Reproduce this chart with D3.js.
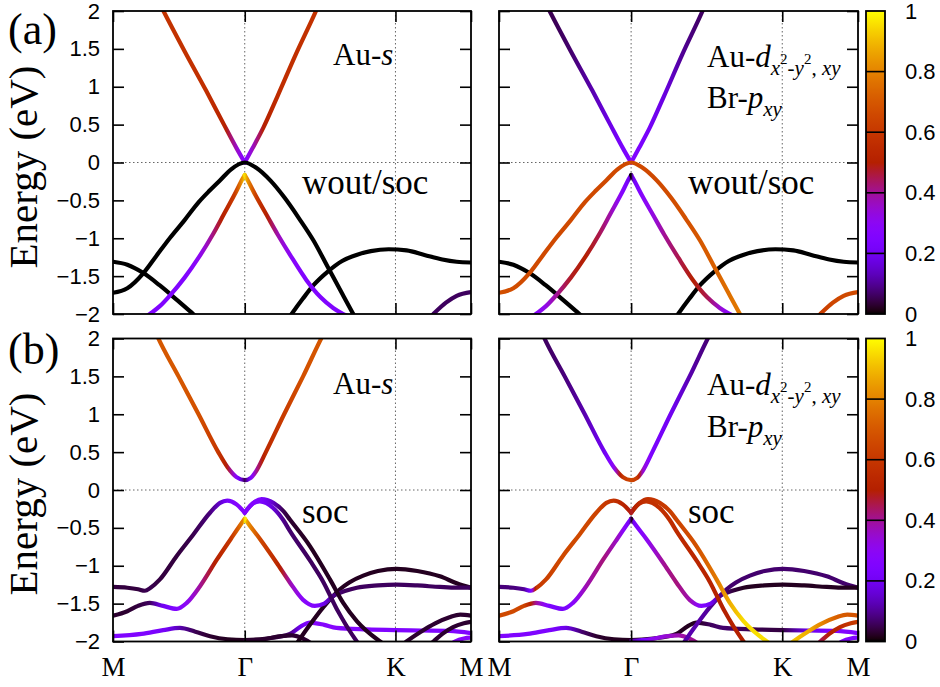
<!DOCTYPE html>
<html><head><meta charset="utf-8">
<script src="https://cdn.jsdelivr.net/npm/d3@7"></script>
<style>body{margin:0;background:#fff}</style>
</head><body><svg id="c" width="940" height="687"></svg>
<script>
// ---------- tick data ----------
const kTicks = [0, 0.368, 0.789, 1];
const kLabels = ["M", "Γ", "K", "M"];
const eTicks = [-2, -1.5, -1, -0.5, 0, 0.5, 1, 1.5, 2];
const cbTicks = [0, 0.2, 0.4, 0.6, 0.8, 1];

// ---------- bands: rows [k, E (eV), weight Au-s, weight Au-d/Br-p] ----------
// (a) without SOC
const ns_condL = [[0.125,2.15,0.58,0.05],[0.141,2.0,0.58,0.05],[0.20,1.47,0.58,0.07],[0.26,0.95,0.57,0.12],[0.31,0.50,0.52,0.18],[0.345,0.19,0.36,0.23],[0.368,0.0,0.26,0.26]];
const ns_condR = [[0.368,0.0,0.26,0.26],[0.39,0.19,0.36,0.24],[0.42,0.46,0.5,0.21],[0.46,0.88,0.56,0.17],[0.51,1.42,0.57,0.1],[0.567,2.0,0.58,0.06],[0.59,2.25,0.58,0.06]];
const ns_valL = [[0.08,-2.08,0.25,0.28],[0.103,-2.0,0.25,0.28],[0.13,-1.90,0.25,0.32],[0.16,-1.75,0.25,0.4],[0.20,-1.52,0.25,0.48],[0.24,-1.25,0.3,0.5],[0.28,-0.94,0.42,0.45],[0.31,-0.68,0.52,0.38],[0.34,-0.42,0.62,0.28],[0.362,-0.215,0.85,0.2],[0.368,-0.165,0.95,0.0]];
const ns_valR = [[0.368,-0.165,0.95,0.0],[0.374,-0.215,0.85,0.2],[0.40,-0.45,0.62,0.28],[0.43,-0.70,0.5,0.33],[0.46,-0.95,0.38,0.4],[0.50,-1.26,0.28,0.45],[0.54,-1.55,0.25,0.5],[0.58,-1.78,0.25,0.45],[0.615,-1.92,0.25,0.35],[0.643,-2.0,0.25,0.28],[0.67,-2.06,0.25,0.28]];
const ns_hump = [[0,-1.72,0,0.68],[0.04,-1.66,0,0.67],[0.085,-1.46,0,0.66],[0.12,-1.24,0,0.66],[0.16,-0.99,0,0.66],[0.20,-0.76,0,0.66],[0.24,-0.52,0,0.66],[0.27,-0.37,0,0.66],[0.30,-0.23,0,0.66],[0.33,-0.09,0,0.66],[0.368,0.0,0,0.66],[0.40,-0.07,0,0.66],[0.44,-0.24,0,0.66],[0.48,-0.47,0,0.67],[0.52,-0.74,0,0.68],[0.56,-1.03,0,0.7],[0.60,-1.38,0,0.72],[0.64,-1.73,0,0.76],[0.671,-2.0,0,0.78],[0.70,-2.25,0,0.78]];
const ns_low = [[0,-1.31,0,0],[0.04,-1.35,0,0],[0.085,-1.46,0,0],[0.13,-1.62,0,0],[0.18,-1.82,0,0],[0.224,-2.0,0,0],[0.25,-2.1,0,0]];
const ns_kHump = [[0.47,-2.2,0,0],[0.499,-2.0,0,0],[0.53,-1.80,0,0],[0.56,-1.62,0,0],[0.60,-1.44,0,0],[0.64,-1.30,0,0],[0.68,-1.22,0,0],[0.72,-1.17,0,0],[0.77,-1.145,0,0],[0.82,-1.16,0,0],[0.87,-1.22,0,0],[0.92,-1.28,0,0],[0.96,-1.31,0,0],[1.0,-1.32,0,0]];
const ns_corner = [[0.87,-2.12,0.06,0.6],[0.895,-2.0,0.06,0.62],[0.93,-1.85,0.06,0.65],[0.96,-1.76,0.06,0.66],[1.0,-1.71,0.06,0.66]];

// (b) with SOC
const s_cond = [[0.10,2.3,0.7,0.06],[0.122,2.05,0.7,0.06],[0.183,1.5,0.7,0.08],[0.239,1.0,0.68,0.12],[0.294,0.5,0.6,0.2],[0.32,0.30,0.48,0.3],[0.345,0.17,0.28,0.6],[0.368,0.13,0.05,0.65],[0.385,0.16,0.25,0.6],[0.40,0.25,0.4,0.35],[0.427,0.5,0.55,0.23],[0.478,1.0,0.62,0.2],[0.531,1.5,0.68,0.12],[0.587,2.05,0.7,0.07],[0.61,2.25,0.7,0.07]];
const s_valL = [[0,-1.28,0.04,0.08],[0.04,-1.29,0.04,0.08],[0.07,-1.31,0.04,0.1],[0.089,-1.33,0.05,0.25],[0.105,-1.29,0.05,0.6],[0.131,-1.18,0.04,0.63],[0.178,-0.87,0.04,0.66],[0.224,-0.59,0.05,0.66],[0.271,-0.30,0.08,0.64],[0.299,-0.17,0.15,0.6],[0.319,-0.14,0.22,0.58],[0.345,-0.19,0.27,0.52],[0.368,-0.30,0.26,0.48]];
const s_valOut = [[0.368,-0.30,0.26,0.48],[0.392,-0.17,0.26,0.55],[0.415,-0.12,0.24,0.58],[0.448,-0.17,0.14,0.6],[0.476,-0.28,0.05,0.62],[0.494,-0.39,0.03,0.64],[0.55,-0.74,0.02,0.68],[0.606,-1.18,0.02,0.78],[0.643,-1.49,0.02,0.88],[0.681,-1.73,0.02,0.95],[0.746,-2.0,0.02,0.96],[0.77,-2.08,0.02,0.96]];
const s_valIn = [[0.368,-0.30,0.26,0.48],[0.39,-0.18,0.26,0.55],[0.41,-0.15,0.24,0.58],[0.448,-0.24,0.16,0.57],[0.476,-0.40,0.09,0.56],[0.494,-0.54,0.07,0.55],[0.55,-0.93,0.06,0.53],[0.587,-1.21,0.06,0.52],[0.625,-1.57,0.06,0.5],[0.681,-2.0,0.06,0.5],[0.70,-2.12,0.06,0.5]];
const s_sL = [[0,-1.66,0.03,0.66],[0.04,-1.60,0.03,0.66],[0.07,-1.53,0.04,0.64],[0.103,-1.49,0.06,0.4],[0.14,-1.53,0.2,0.24],[0.178,-1.57,0.26,0.22],[0.206,-1.49,0.3,0.28],[0.243,-1.27,0.4,0.38],[0.29,-0.92,0.52,0.42],[0.33,-0.64,0.6,0.36],[0.362,-0.42,0.8,0.22],[0.368,-0.38,0.98,0.02]];
const s_sR = [[0.368,-0.38,0.98,0.02],[0.374,-0.42,0.85,0.22],[0.411,-0.65,0.65,0.3],[0.457,-0.96,0.55,0.4],[0.494,-1.22,0.38,0.42],[0.531,-1.45,0.28,0.38],[0.564,-1.53,0.26,0.26],[0.59,-1.50,0.18,0.2],[0.615,-1.40,0.09,0.1],[0.65,-1.33,0.06,0.04],[0.681,-1.29,0.06,0.02],[0.74,-1.26,0.06,0.02],[0.792,-1.25,0.06,0.02],[0.85,-1.26,0.06,0.02],[0.913,-1.28,0.06,0.02],[0.96,-1.29,0.06,0.02],[1.0,-1.29,0.06,0.02]];
const s_kHump = [[0.50,-2.12,0.02,0.12],[0.52,-1.98,0.02,0.12],[0.55,-1.78,0.02,0.12],[0.587,-1.55,0.02,0.1],[0.615,-1.40,0.02,0.08],[0.634,-1.31,0.02,0.07],[0.66,-1.22,0.02,0.07],[0.699,-1.13,0.02,0.07],[0.74,-1.07,0.02,0.07],[0.792,-1.04,0.02,0.07],[0.85,-1.07,0.02,0.07],[0.913,-1.14,0.02,0.07],[0.96,-1.23,0.02,0.07],[1.0,-1.29,0.02,0.07]];
const s_flat = [[0,-1.93,0.25,0.25],[0.08,-1.90,0.25,0.25],[0.14,-1.85,0.22,0.24],[0.187,-1.82,0.12,0.18],[0.23,-1.87,0.05,0.07],[0.271,-1.93,0.03,0.03],[0.32,-1.97,0.02,0.02],[0.368,-1.98,0.02,0.02],[0.43,-1.96,0.03,0.02],[0.494,-1.90,0.08,0.02],[0.525,-1.80,0.2,0.02],[0.55,-1.75,0.27,0.02],[0.59,-1.78,0.27,0.06],[0.624,-1.82,0.27,0.07],[0.708,-1.84,0.26,0.05],[0.789,-1.85,0.25,0.04],[0.86,-1.855,0.25,0.18],[0.94,-1.86,0.25,0.25],[1.0,-1.89,0.25,0.25]];
const s_bot = [[0.368,-1.99,0.03,0.1],[0.42,-1.97,0.03,0.3],[0.47,-1.93,0.03,0.35],[0.50,-1.92,0.03,0.38],[0.53,-1.96,0.03,0.4],[0.57,-2.08,0.03,0.4]];
const s_corner1 = [[0.80,-2.08,0.03,0.92],[0.82,-2.0,0.03,0.92],[0.86,-1.87,0.03,0.88],[0.90,-1.76,0.03,0.8],[0.94,-1.68,0.03,0.72],[0.97,-1.645,0.03,0.7],[1.0,-1.66,0.03,0.68]];
const s_corner2 = [[0.87,-2.1,0.03,0.45],[0.895,-2.0,0.03,0.45],[0.92,-1.90,0.03,0.5],[0.95,-1.81,0.03,0.55],[0.98,-1.76,0.03,0.6],[1.0,-1.74,0.03,0.62]];
const s_corner3 = [[0.93,-2.08,0.28,0.25],[0.955,-2.0,0.28,0.25],[0.98,-1.96,0.28,0.25],[1.0,-1.95,0.28,0.25]];

const bandsNoSoc = [ns_low, ns_kHump, ns_corner, ns_condL, ns_condR, ns_valL, ns_valR, ns_hump];
const bandsSoc = [s_flat, s_bot, s_corner3, s_corner2, s_corner1, s_kHump, s_sR, s_valIn, s_valOut, s_valL, s_sL, s_cond];

// ---------- drawing ----------
const SERIF = "'Liberation Serif','Times New Roman',serif";
const SANS = "'Liberation Sans',Arial,Helvetica,sans-serif";
const svg = d3.select("#c");
const defs = svg.append("defs");
const pal = w => {
  w = Math.max(0, Math.min(1, w));
  const r = Math.sqrt(w), g = w * w * w, b = Math.max(0, Math.sin(2 * Math.PI * w));
  return d3.rgb(r * 255, g * 255, b * 255).formatHex();
};
const cols = [{x0: 113, x1: 471}, {x0: 499, x1: 858}];
const rows = [{y0: 11, y1: 314}, {y0: 338.5, y1: 641.5}];
const cbX = [866, 885];
let uid = 0;
const fmtE = d => (d < 0 ? "\u2212" : "") + Math.abs(d);

function drawPanel(row, col, bands, wIdx, ylabels, xlabels) {
  const xs = d3.scaleLinear().domain([0, 1]).range([col.x0, col.x1]);
  const ys = d3.scaleLinear().domain([-2, 2]).range([row.y1, row.y0]);
  const g = svg.append("g");
  const cid = "clip" + (uid++);
  defs.append("clipPath").attr("id", cid).append("rect")
    .attr("x", col.x0).attr("y", row.y0).attr("width", col.x1 - col.x0).attr("height", row.y1 - row.y0);
  g.selectAll("line.vg").data([kTicks[1], kTicks[2]]).join("line")
    .attr("x1", d => xs(d)).attr("x2", d => xs(d)).attr("y1", row.y0).attr("y2", row.y1)
    .attr("stroke", "#666").attr("stroke-width", 1).attr("stroke-dasharray", "1.5,2.5");
  g.append("line").attr("x1", col.x0).attr("x2", col.x1).attr("y1", ys(0)).attr("y2", ys(0))
    .attr("stroke", "#666").attr("stroke-width", 1).attr("stroke-dasharray", "1.5,2.5");
  const line = d3.line().x(d => xs(d[0])).y(d => ys(d[1])).curve(d3.curveMonotoneX);
  const bg = g.append("g").attr("clip-path", `url(#${cid})`);
  bands.forEach(b => {
    const id = "gr" + (uid++);
    const ts = b.map(d => d[0]), ws = b.map(d => d[wIdx]);
    const wOf = d3.scaleLinear().domain(ts).range(ws).clamp(true);
    const t0 = ts[0], t1 = ts[ts.length - 1];
    const grad = defs.append("linearGradient").attr("id", id).attr("gradientUnits", "userSpaceOnUse")
      .attr("x1", xs(t0)).attr("x2", xs(t1)).attr("y1", 0).attr("y2", 0);
    const n = 120;
    for (let i = 0; i <= n; i++) {
      const t = t0 + (t1 - t0) * i / n;
      grad.append("stop").attr("offset", i / n).attr("stop-color", pal(wOf(t)));
    }
    bg.append("path").attr("d", line(b)).attr("fill", "none")
      .attr("stroke", `url(#${id})`).attr("stroke-width", 4.2).attr("stroke-linecap", "round");
  });
  const yl = d3.axisLeft(ys).tickValues(eTicks).tickSizeInner(-11).tickSizeOuter(0).tickPadding(13)
    .tickFormat(ylabels ? fmtE : () => "");
  const yr = d3.axisRight(ys).tickValues(eTicks).tickSizeInner(-11).tickSizeOuter(0).tickFormat(() => "");
  const xb = d3.axisBottom(xs).tickValues(kTicks).tickSizeInner(-11).tickSizeOuter(0).tickPadding(15)
    .tickFormat(xlabels ? (d, i) => kLabels[i] : () => "");
  const xt = d3.axisTop(xs).tickValues(kTicks).tickSizeInner(-11).tickSizeOuter(0).tickFormat(() => "");
  const axes = [
    [yl, `translate(${col.x0},0)`], [yr, `translate(${col.x1},0)`],
    [xb, `translate(0,${row.y1})`], [xt, `translate(0,${row.y0})`]
  ];
  axes.forEach(([ax, tr], i) => {
    const a = g.append("g").attr("transform", tr).call(ax);
    a.select(".domain").remove();
    a.selectAll("line").attr("stroke", "#000").attr("stroke-width", 1.6);
    a.selectAll("text").attr("fill", "#000");
    if (i === 0) a.selectAll("text").attr("font-family", SANS).attr("font-size", 22);
    if (i === 2) a.selectAll("text").attr("font-family", SERIF).attr("font-size", 27);
  });
  g.append("rect").attr("x", col.x0).attr("y", row.y0).attr("width", col.x1 - col.x0).attr("height", row.y1 - row.y0)
    .attr("fill", "none").attr("stroke", "#000").attr("stroke-width", 1.8);
  return g;
}

function drawColorbar(row) {
  const id = "cb" + (uid++);
  const grad = defs.append("linearGradient").attr("id", id).attr("x1", 0).attr("y1", 1).attr("x2", 0).attr("y2", 0);
  for (let i = 0; i <= 100; i++) grad.append("stop").attr("offset", i / 100).attr("stop-color", pal(i / 100));
  const cs = d3.scaleLinear().domain([0, 1]).range([row.y1, row.y0]);
  const g = svg.append("g");
  g.append("rect").attr("x", cbX[0]).attr("y", row.y0).attr("width", cbX[1] - cbX[0]).attr("height", row.y1 - row.y0)
    .attr("fill", `url(#${id})`);
  g.selectAll("line.cbt").data(cbTicks.slice(1, -1)).join("line")
    .attr("x1", cbX[0]).attr("x2", cbX[1]).attr("y1", d => cs(d)).attr("y2", d => cs(d))
    .attr("stroke", "#000").attr("stroke-width", 1.6);
  g.append("rect").attr("x", cbX[0]).attr("y", row.y0).attr("width", cbX[1] - cbX[0]).attr("height", row.y1 - row.y0)
    .attr("fill", "none").attr("stroke", "#000").attr("stroke-width", 1.8);
  const ax = g.append("g").attr("transform", `translate(${cbX[1]},0)`)
    .call(d3.axisRight(cs).tickValues(cbTicks).tickSize(0).tickPadding(20).tickFormat(d => String(d)));
  ax.select(".domain").remove();
  ax.selectAll("text").attr("font-family", SANS).attr("font-size", 22).attr("fill", "#000");
}

function txt(x, y, size) {
  return svg.append("text").attr("x", x).attr("y", y).attr("font-family", SERIF).attr("font-size", size).attr("fill", "#000");
}
function auS(x, y) {
  const t = txt(x, y, 31);
  t.append("tspan").text("Au-");
  t.append("tspan").attr("font-style", "italic").text("s");
}
function auD(x, y) {
  const t = txt(x, y, 31);
  t.append("tspan").text("Au-");
  t.append("tspan").attr("font-style", "italic").text("d");
  t.append("tspan").attr("font-size", 21).attr("font-style", "italic").attr("dy", 8).text("x");
  t.append("tspan").attr("font-size", 15).attr("dy", -11).text("2");
  t.append("tspan").attr("font-size", 21).attr("font-style", "italic").attr("dy", 11).text("-y");
  t.append("tspan").attr("font-size", 15).attr("dy", -11).text("2");
  t.append("tspan").attr("font-size", 21).attr("dy", 11).text(", ");
  t.append("tspan").attr("font-size", 21).attr("font-style", "italic").text("xy");
}
function brP(x, y) {
  const t = txt(x, y, 31);
  t.append("tspan").text("Br-");
  t.append("tspan").attr("font-style", "italic").text("p");
  t.append("tspan").attr("font-size", 21).attr("font-style", "italic").attr("dy", 8).text("xy");
}

drawPanel(rows[0], cols[0], bandsNoSoc, 2, true, false);
drawPanel(rows[0], cols[1], bandsNoSoc, 3, false, false);
drawPanel(rows[1], cols[0], bandsSoc, 2, true, true);
drawPanel(rows[1], cols[1], bandsSoc, 3, false, true);
drawColorbar(rows[0]);
drawColorbar(rows[1]);

auS(333, 65); txt(302, 194, 35).text("wout/soc");
auD(707, 67); brP(707, 108); txt(688, 194, 35).text("wout/soc");
auS(333, 394); txt(302, 523, 35).text("soc");
auD(707, 395); brP(707, 437); txt(688, 523, 35).text("soc");

txt(8, 44, 44).text("(a)");
txt(8, 364, 44).text("(b)");
txt(0, 0, 41).attr("transform", "translate(37,167) rotate(-90)")
  .attr("text-anchor", "middle").text("Energy (eV)");
txt(0, 0, 41).attr("transform", "translate(37,494) rotate(-90)")
  .attr("text-anchor", "middle").text("Energy (eV)");
</script>
</body></html>
